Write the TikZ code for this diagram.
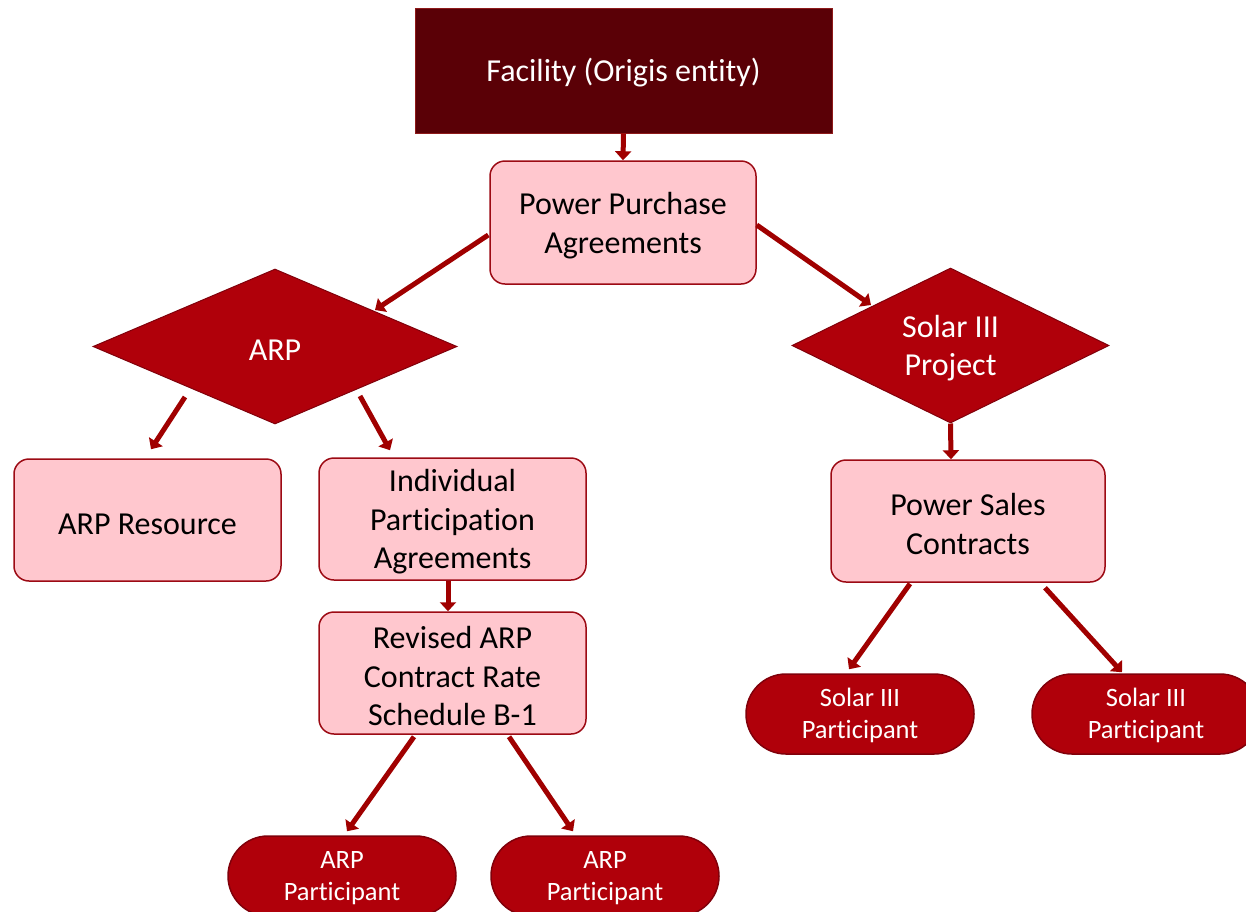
\documentclass[tikz,border=0pt]{standalone}
\usepackage{fontspec}
\setmainfont{Carlito}[Ligatures={NoCommon}]
\usetikzlibrary{shapes.geometric,arrows.meta,calc}
\definecolor{facfill}{HTML}{5A0006}
\definecolor{facline}{HTML}{8E1A1A}
\definecolor{pinkfill}{HTML}{FFC7CE}
\definecolor{pinkline}{HTML}{9C0A14}
\definecolor{redfill}{HTML}{B0000A}
\definecolor{redline}{HTML}{80000A}
\definecolor{arrcol}{HTML}{A00000}
\newcommand{\tstrut}[1]{\rule{0pt}{\dimexpr\fontcharht\font`h+#1\relax}}
\tikzset{
  facbox/.style={draw=facline, line width=1pt, fill=facfill, text=white, minimum width=417pt, minimum height=125pt, inner sep=0pt, font=\fontsize{32}{38}\selectfont},
  pinkbox/.style={draw=pinkline, line width=1.5pt, fill=pinkfill, text=black, rounded corners=15pt, minimum width=267pt, minimum height=122pt, inner sep=0pt, align=center, font=\fontsize{32}{38.5}\selectfont},
  decide/.style={diamond, shape aspect=2, draw=redline, line width=1pt, fill=redfill, text=white, inner sep=0pt, align=center, font=\fontsize{32}{38}\selectfont},
  partbox/.style={draw=redline, line width=1.5pt, fill=redfill, text=white, rounded corners=40pt, minimum width=228pt, minimum height=80pt, inner sep=0pt, align=center, font=\fontsize{26.5}{32}\selectfont},
  arr/.style={draw=arrcol, line width=5pt, -{Triangle[length=9pt,width=16pt]}}
}
\begin{document}
\begin{tikzpicture}[x=1pt,y=-1pt]
\useasboundingbox (0,0) rectangle (1246,911);
\node[facbox] (fac) at (623.5,70.5) {\tstrut{6pt}Facility (Origis entity)};
\node[pinkbox, minimum width=266pt, minimum height=123pt] (ppa) at (623,222.5) {\tstrut{6pt}Power Purchase\\Agreements};
\node[decide, minimum width=364pt, minimum height=155pt] (arp) at (275,346.5) {\tstrut{6pt}ARP};
\node[decide, minimum width=317pt, minimum height=155pt] (sol) at (950.5,345.5) {\tstrut{6pt}Solar III\\Project};
\node[pinkbox] (res) at (147.5,520) {\tstrut{6pt}ARP Resource};
\node[pinkbox] (ipa) at (452.5,519) {\tstrut{6pt}Individual\\Participation\\Agreements};
\node[pinkbox] (rev) at (452.5,673) {\tstrut{6pt}Revised ARP\\Contract Rate\\Schedule B-1};
\node[pinkbox, minimum width=274pt] (psc) at (968,521) {\tstrut{6pt}Power Sales\\Contracts};
\node[partbox] (ap1) at (342,876) {\tstrut{3pt}ARP\\Participant};
\node[partbox] (ap2) at (605,876) {\tstrut{3pt}ARP\\Participant};
\node[partbox] (sp1) at (860,714) {\tstrut{3pt}Solar III\\Participant};
\node[partbox] (sp2) at (1146,714) {\tstrut{3pt}Solar III\\Participant};

\draw[arr] (fac.south) -- (ppa.north);
\draw[arr] ([shift={(-1,12.5)}]ppa.west) -- ([shift={(100,-36.5)}]arp.center);
\draw[arr] ([shift={(0,2.5)}]ppa.east) -- ([shift={(-79.5,-40.5)}]sol.center);
\draw[arr] ([shift={(-90,50.5)}]arp.center) -- ([shift={(3.5,-9)}]res.north);
\draw[arr] ([shift={(85,49.5)}]arp.center) -- ([shift={(-62.5,-7)}]ipa.north);
\draw[arr] (sol.south) -- ([xshift=-17pt]psc.north);
\draw[arr] ([xshift=-4.5pt]ipa.south) -- ([xshift=-4.5pt]rev.north);
\draw[arr] ([shift={(-38.5,2)}]rev.south) -- ([shift={(5,-4)}]ap1.north);
\draw[arr] ([shift={(56.5,2)}]rev.south) -- ([shift={(-32,-4)}]ap2.north);
\draw[arr] ([shift={(-58,1)}]psc.south) -- ([shift={(-11,-4)}]sp1.north);
\draw[arr] ([shift={(77,5)}]psc.south) -- ([shift={(-24,-1)}]sp2.north);
\end{tikzpicture}
\end{document}
